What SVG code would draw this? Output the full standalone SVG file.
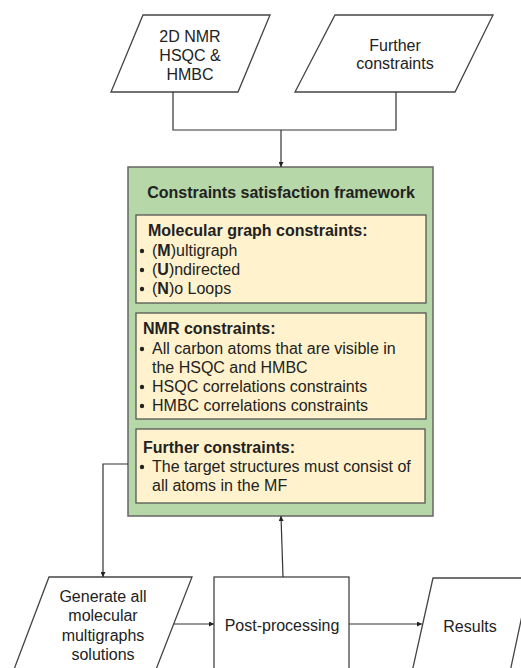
<svg xmlns="http://www.w3.org/2000/svg" width="521" height="668" viewBox="0 0 521 668">
<style>
text{font-family:"Liberation Sans",Arial,sans-serif;font-size:16px;fill:#222}
.c{text-anchor:middle}
.b{font-weight:bold}
.shape{fill:#fff;stroke:#444;stroke-width:1.3}
.frame{fill:#b6d7a8;stroke:#666;stroke-width:1.5}
.inner{fill:#fff2cc;stroke:#555;stroke-width:1.3}
.conn{fill:none;stroke:#333;stroke-width:1.2}
.dot{fill:#222}
</style>
<defs>
<marker id="ah" viewBox="0 0 10 10" refX="10" refY="5" markerWidth="5" markerHeight="5" orient="auto" markerUnits="userSpaceOnUse">
<path d="M0,0L10,5L0,10z" fill="#222"/>
</marker>
</defs>
<rect width="521" height="668" fill="#fff"/>
<g id="input-nmr">
<polygon class="shape" points="143,15 270,15 238,92 111,92"/>
<text class="c" x="190" y="42">2D NMR</text>
<text class="c" x="190" y="61">HSQC &amp;</text>
<text class="c" x="190" y="80">HMBC</text>
</g>
<g id="input-further">
<polygon class="shape" points="335,15 493,15 455,92 295,92"/>
<text class="c" x="395" y="51">Further</text>
<text class="c" x="395" y="69">constraints</text>
</g>
<g id="framework">
<rect class="frame" x="128" y="167" width="305" height="349"/>
<text class="c b" x="281" y="198">Constraints satisfaction framework</text>
</g>
<g id="molecular">
<rect class="inner" x="136" y="215" width="290" height="88"/>
<text class="b" x="148" y="236">Molecular graph constraints:</text>
<circle class="dot" cx="142" cy="251" r="2.2"/><text x="152" y="256">(<tspan class="b">M</tspan>)ultigraph</text>
<circle class="dot" cx="142" cy="270" r="2.2"/><text x="152" y="275">(<tspan class="b">U</tspan>)ndirected</text>
<circle class="dot" cx="142" cy="289" r="2.2"/><text x="152" y="294">(<tspan class="b">N</tspan>)o Loops</text>
</g>
<g id="nmr">
<rect class="inner" x="136" y="313" width="290" height="106"/>
<text class="b" x="143" y="334">NMR constraints:</text>
<circle class="dot" cx="142" cy="349" r="2.2"/><text x="152" y="354">All carbon atoms that are visible in</text>
<text x="152" y="373">the HSQC and HMBC</text>
<circle class="dot" cx="142" cy="387" r="2.2"/><text x="152" y="392">HSQC correlations constraints</text>
<circle class="dot" cx="142" cy="406" r="2.2"/><text x="152" y="411">HMBC correlations constraints</text>
</g>
<g id="further">
<rect class="inner" x="136" y="429" width="289" height="74"/>
<text class="b" x="143" y="453">Further constraints:</text>
<circle class="dot" cx="142" cy="467" r="2.2"/><text x="152" y="472">The target structures must consist of</text>
<text x="152" y="491">all atoms in the MF</text>
</g>
<g id="generate">
<polygon class="shape" points="49,577 192,577 155,672 13,672"/>
<text class="c" x="103" y="602">Generate all</text>
<text class="c" x="103" y="621">molecular</text>
<text class="c" x="103" y="641">multigraphs</text>
<text class="c" x="103" y="660">solutions</text>
</g>
<g id="postprocessing">
<rect class="shape" x="214" y="577" width="135" height="96"/>
<text class="c" x="282" y="631">Post-processing</text>
</g>
<g id="results">
<polygon class="shape" points="433,578 530,578 510,672 412,672"/>
<text class="c" x="470" y="632">Results</text>
</g>
<g id="connectors">
<polyline class="conn" points="128,464 103,464 103,577" marker-end="url(#ah)"/>
<polyline class="conn" points="173,92 173,130 396,130 396,92"/>
<line class="conn" x1="281" y1="130" x2="281" y2="167" marker-end="url(#ah)"/>
<line class="conn" x1="174" y1="624" x2="214" y2="624" marker-end="url(#ah)"/>
<line class="conn" x1="349" y1="624" x2="422" y2="624" marker-end="url(#ah)"/>
<line class="conn" x1="283" y1="577" x2="281" y2="516" marker-end="url(#ah)"/>
</g>
</svg>
